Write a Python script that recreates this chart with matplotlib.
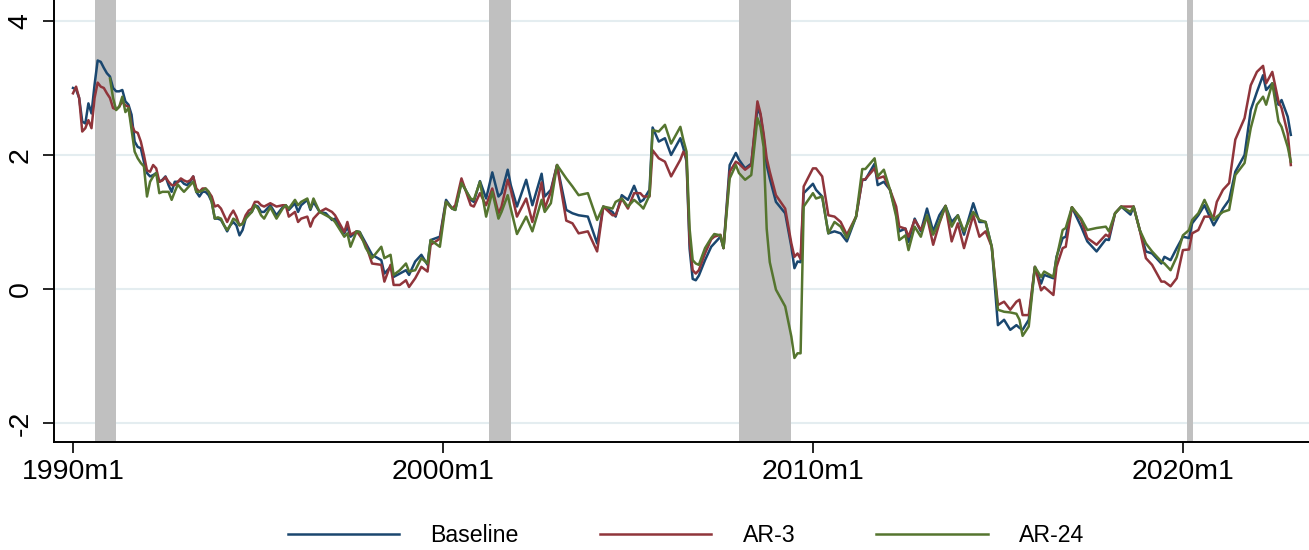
import numpy as np
import matplotlib
matplotlib.use("Agg")
import matplotlib.pyplot as plt

plt.rcParams['font.family'] = ['Liberation Sans', 'DejaVu Sans']

nan = np.nan

# months since 1990m1
months = [0, 1, 2, 3, 4, 5, 6, 7, 8, 9, 10, 11, 12, 13, 14, 15, 16, 17, 18, 19,
          20, 21, 22, 23, 24, 25, 26, 27, 28, 29, 30, 31, 32, 33, 34, 35, 36, 37, 38, 39,
          40, 41, 42, 43, 44, 45, 46, 47, 48, 49, 50, 51, 52, 53, 54, 55, 56, 57, 58, 59,
          60, 61, 62, 64, 66, 68, 69, 70, 72, 73, 74, 76, 77, 78, 80, 82, 84, 85, 88, 89,
          90, 92, 93, 95, 97, 100, 101, 103, 104, 106, 108, 109, 111, 113, 115, 116, 119, 121, 123, 124,
          126, 129, 130, 132, 134, 136, 138, 139, 141, 142, 144, 147, 149, 152, 153, 155, 157, 160, 162, 164,
          167, 170, 172, 175, 176, 178, 180, 182, 184, 185, 187, 188, 190, 192, 194, 197, 198, 199, 200, 201,
          202, 203, 205, 207, 208, 210, 211, 213, 215, 216, 218, 220, 222, 223, 224, 225, 226, 228, 231, 233,
          234, 235, 236, 237, 240, 241, 243, 245, 247, 249, 251, 254, 256, 257, 260, 261, 263, 265, 267, 268,
          270, 271, 273, 275, 277, 279, 281, 283, 285, 287, 289, 292, 294, 296, 298, 300, 302, 304, 306, 307,
          308, 310, 312, 314, 315, 318, 319, 321, 322, 324, 327, 329, 332, 335, 336, 338, 340, 343, 344, 346,
          348, 350, 353, 354, 356, 358, 360, 362, 363, 365, 367, 370, 371, 373, 375, 377, 380, 382, 384, 386,
          387, 389, 391, 392, 394, 395]

baseline = [3.00, 2.98, 2.85, 2.50, 2.47, 2.77, 2.62, 3.05, 3.41, 3.39, 3.30, 3.22, 3.17, 3.00, 2.95, 2.95, 2.97, 2.80, 2.75, 2.60,
            2.20, 2.12, 2.10, 1.90, 1.73, 1.68, 1.70, 1.73, 1.60, 1.63, 1.68, 1.55, 1.45, 1.60, 1.60, 1.62, 1.57, 1.55, 1.60, 1.68,
            1.45, 1.38, 1.45, 1.45, 1.40, 1.30, 1.05, 1.05, 1.03, 0.95, 0.86, 0.95, 1.00, 0.95, 0.80, 0.88, 1.05, 1.12, 1.15, 1.25,
            1.23, 1.15, 1.15, 1.25, 1.10, 1.22, 1.25, 1.18, 1.28, 1.15, 1.25, 1.33, 1.18, 1.30, 1.15, 1.13, 1.03, 1.05, 0.83, 0.93,
            0.78, 0.86, 0.85, 0.68, 0.51, 0.43, 0.23, 0.33, 0.18, 0.23, 0.28, 0.21, 0.41, 0.51, 0.36, 0.73, 0.78, 1.33, 1.20, 1.18,
            1.60, 1.33, 1.30, 1.61, 1.35, 1.74, 1.38, 1.43, 1.78, 1.55, 1.23, 1.63, 1.25, 1.72, 1.38, 1.48, 1.85, 1.18, 1.13, 1.10,
            1.08, 0.68, 1.23, 1.15, 1.08, 1.40, 1.33, 1.54, 1.30, 1.33, 1.48, 2.41, 2.20, 2.25, 2.00, 2.25, 2.10, 1.90, 0.60, 0.15,
            0.13, 0.20, 0.43, 0.63, 0.68, 0.78, 0.61, 1.85, 2.03, 1.93, 1.80, 1.87, 2.70, 2.60, 2.27, 1.85, 1.65, 1.30, 1.13, 0.63,
            0.31, 0.41, 0.40, 1.43, 1.57, 1.48, 1.38, 0.83, 0.86, 0.83, 0.71, 1.08, 1.63, 1.63, 1.87, 1.55, 1.60, 1.48, 1.13, 0.86,
            0.90, 0.70, 1.05, 0.86, 1.20, 0.86, 1.10, 1.24, 1.00, 1.10, 0.81, 1.28, 1.00, 1.00, 0.63, -0.54, -0.46, -0.61, -0.54, -0.58,
            -0.61, -0.46, 0.33, 0.08, 0.21, 0.16, 0.48, 0.76, 0.78, 1.22, 0.93, 0.71, 0.56, 0.74, 0.73, 1.13, 1.23, 1.11, 1.23, 0.88,
            0.56, 0.53, 0.38, 0.48, 0.43, 0.61, 0.78, 0.76, 0.98, 1.10, 1.25, 0.95, 1.03, 1.20, 1.33, 1.75, 2.00, 2.67, 2.94, 3.19,
            2.97, 3.07, 2.75, 2.82, 2.57, 2.30]

ar3 = [2.92, 3.02, 2.85, 2.35, 2.40, 2.52, 2.40, 2.85, 3.08, 3.02, 3.00, 2.92, 2.85, 2.70, 2.68, 2.72, 2.80, 2.74, 2.72, 2.45,
       2.35, 2.33, 2.20, 2.00, 1.77, 1.75, 1.85, 1.80, 1.60, 1.62, 1.67, 1.60, 1.55, 1.55, 1.60, 1.65, 1.62, 1.60, 1.62, 1.68,
       1.50, 1.45, 1.50, 1.50, 1.45, 1.38, 1.23, 1.25, 1.20, 1.10, 1.00, 1.10, 1.17, 1.08, 0.95, 0.98, 1.10, 1.17, 1.20, 1.30,
       1.30, 1.25, 1.23, 1.28, 1.23, 1.25, 1.25, 1.08, 1.15, 1.00, 1.05, 1.08, 0.93, 1.05, 1.15, 1.20, 1.15, 1.10, 0.85, 1.00,
       0.81, 0.86, 0.80, 0.66, 0.38, 0.36, 0.11, 0.36, 0.06, 0.06, 0.13, 0.03, 0.16, 0.33, 0.26, 0.66, 0.75, 1.30, 1.20, 1.25,
       1.65, 1.25, 1.23, 1.43, 1.25, 1.50, 1.13, 1.23, 1.63, 1.48, 1.08, 1.35, 1.00, 1.59, 1.20, 1.45, 1.85, 1.02, 0.98, 0.83,
       0.86, 0.56, 1.23, 1.10, 1.10, 1.35, 1.20, 1.43, 1.43, 1.38, 1.38, 2.07, 1.95, 1.90, 1.68, 1.93, 2.05, 1.95, 0.70, 0.28,
       0.23, 0.28, 0.53, 0.74, 0.78, 0.81, 0.61, 1.75, 1.90, 1.87, 1.78, 1.85, 2.80, 2.62, 2.32, 1.95, 1.75, 1.40, 1.20, 0.68,
       0.48, 0.53, 0.45, 1.53, 1.80, 1.80, 1.68, 1.10, 1.08, 1.00, 0.81, 1.08, 1.63, 1.64, 1.80, 1.65, 1.68, 1.48, 1.23, 0.93,
       0.90, 0.78, 1.03, 0.88, 1.08, 0.66, 0.98, 1.24, 0.71, 0.98, 0.61, 1.10, 0.78, 0.86, 0.63, -0.24, -0.19, -0.31, -0.19, -0.16,
       -0.39, -0.39, 0.33, -0.02, 0.03, -0.09, 0.33, 0.61, 0.63, 1.22, 1.03, 0.76, 0.66, 0.81, 0.78, 1.13, 1.23, 1.23, 1.23, 0.88,
       0.46, 0.36, 0.11, 0.11, 0.04, 0.16, 0.58, 0.59, 0.83, 0.88, 1.08, 1.08, 1.30, 1.48, 1.58, 2.23, 2.55, 3.04, 3.24, 3.33,
       3.07, 3.24, 2.80, 2.70, 2.32, 1.85]

ar24 = [nan, nan, nan, nan, nan, nan, nan, nan, nan, nan, nan, nan, 3.14, 2.85, 2.67, 2.72, 2.87, 2.64, 2.70, 2.37,
        2.05, 1.95, 1.88, 1.83, 1.38, 1.60, 1.68, 1.73, 1.43, 1.45, 1.45, 1.45, 1.33, 1.45, 1.56, 1.50, 1.45, 1.50, 1.55, 1.60,
        1.45, 1.45, 1.47, 1.50, 1.45, 1.30, 1.05, 1.07, 1.05, 0.95, 0.88, 0.95, 1.05, 1.02, 0.95, 0.97, 1.05, 1.10, 1.15, 1.25,
        1.20, 1.10, 1.05, 1.22, 1.05, 1.20, 1.25, 1.20, 1.33, 1.25, 1.30, 1.35, 1.20, 1.35, 1.15, 1.10, 1.05, 1.00, 0.78, 0.83,
        0.63, 0.86, 0.85, 0.61, 0.46, 0.63, 0.46, 0.51, 0.21, 0.28, 0.38, 0.26, 0.28, 0.46, 0.38, 0.73, 0.63, 1.30, 1.20, 1.18,
        1.58, 1.35, 1.33, 1.60, 1.08, 1.45, 1.05, 1.15, 1.40, 1.20, 0.82, 1.08, 0.86, 1.33, 1.15, 1.28, 1.85, 1.65, 1.53, 1.40,
        1.43, 1.03, 1.23, 1.20, 1.30, 1.35, 1.23, 1.33, 1.25, 1.20, 1.40, 2.37, 2.35, 2.45, 2.17, 2.42, 2.22, 2.05, 0.90, 0.43,
        0.38, 0.36, 0.61, 0.76, 0.82, 0.80, 0.61, 1.65, 1.85, 1.73, 1.63, 1.70, 2.55, 2.42, 2.12, 0.90, 0.40, -0.01, -0.26, -0.71,
        -1.03, -0.96, -0.96, 1.23, 1.43, 1.35, 1.38, 0.83, 1.00, 0.93, 0.76, 1.08, 1.79, 1.79, 1.95, 1.68, 1.78, 1.48, 1.08, 0.73,
        0.80, 0.58, 0.93, 0.78, 1.10, 0.81, 1.00, 1.24, 0.93, 1.10, 0.86, 1.15, 1.03, 1.00, 0.63, -0.31, -0.34, -0.35, -0.37, -0.46,
        -0.70, -0.56, 0.33, 0.18, 0.26, 0.18, 0.46, 0.88, 0.91, 1.22, 1.05, 0.88, 0.91, 0.93, 0.86, 1.13, 1.23, 1.15, 1.23, 0.88,
        0.68, 0.56, 0.41, 0.38, 0.28, 0.48, 0.80, 0.88, 1.03, 1.13, 1.33, 1.03, 1.08, 1.15, 1.18, 1.70, 1.88, 2.40, 2.75, 2.87,
        2.75, 3.07, 2.50, 2.42, 2.12, 1.90]

# NBER recessions, months since 1990m1
recessions = [(7, 14), (135, 142), (216, 233), (361.3, 363.2)]

tick_months = [0, 120, 240, 360]
tick_labels = ['1990m1', '2000m1', '2010m1', '2020m1']
y_ticks = [-2, 0, 2, 4]

navy = '#1a476f'
maroon = '#90353b'
green = '#55752f'

fig = plt.figure(figsize=(13.09, 5.5), dpi=100)
ax = fig.add_axes([54 / 1309, 108 / 550, 1 - 54 / 1309, 442 / 550])

for yv in y_ticks:
    ax.axhline(yv, color='#e4edf0', lw=1.5, zorder=0.5)
for s, e in recessions:
    ax.axvspan(s, e, color='#c0c0c0', lw=0, zorder=1)

l1, = ax.plot(months, baseline, color=navy, lw=1.8, zorder=2, label='Baseline')
l2, = ax.plot(months, ar3, color=maroon, lw=1.8, zorder=2.1, label='AR-3')
l3, = ax.plot(months, ar24, color=green, lw=1.8, zorder=2.2, label='AR-24')

ax.set_xlim(-6.16, 400.9)
ax.set_ylim(-2.284, 4.313)
ax.set_xticks(tick_months)
ax.set_xticklabels(tick_labels)
ax.set_yticks(y_ticks)
ax.set_yticklabels([str(v) for v in y_ticks], rotation=90, va='center')

for side in ['top', 'right']:
    ax.spines[side].set_visible(False)
for side in ['left', 'bottom']:
    ax.spines[side].set_linewidth(1.4)
ax.tick_params(axis='x', length=8, width=1.2, labelsize=20.5, pad=4)
ax.tick_params(axis='y', length=8, width=1.2, labelsize=20.5, pad=6.5)

fig.legend(handles=[l1, l2, l3], loc='center', bbox_to_anchor=(686 / 1309, 1 - 536 / 550),
           ncol=3, frameon=False, fontsize=16.7, handlelength=4.8, handletextpad=1.34,
           columnspacing=3.5)

fig.savefig('out.png', dpi=100)
